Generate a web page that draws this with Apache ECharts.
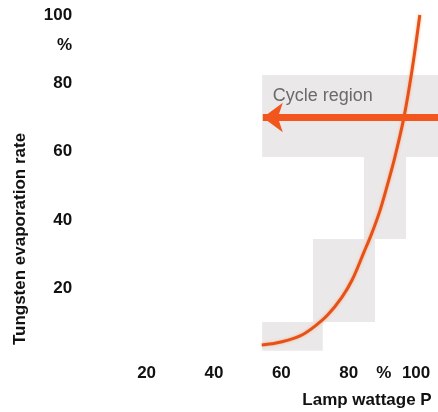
<!DOCTYPE html>
<html>
<head>
<meta charset="utf-8">
<script src="https://cdn.jsdelivr.net/npm/echarts@6/dist/echarts.min.js"></script>
<style>html,body{margin:0;padding:0;background:#fff}#c{width:438px;height:412px}</style>
</head>
<body>
<div id="c"></div>
<script>
// Curve: lamp wattage (%) vs tungsten evaporation rate (%)
const wattage = [54.2, 58.1, 62.0, 66.1, 70.0, 73.8, 78.0, 81.0, 84.5, 86.9, 89.3, 91.3, 93.7, 96.4, 98.8, 101.1];
const evaporation = [3.4, 3.9, 4.8, 6.3, 8.9, 12.2, 17.4, 22.4, 30.5, 36.2, 42.8, 49.6, 58.4, 70.1, 83.9, 100.0];

// Cycle region arrow
const arrowY = 70.0;
const arrowFrom = 54.5;
const arrowTo = 106.5;
const arrowLabel = 'Cycle region';

// Shaded bands [x0, y0, x1, y1]
const bands = [
  [54.3, 58.4, 106.5, 82.4],
  [84.5, 34.4, 97.0, 58.4],
  [69.4, 10.1, 87.8, 34.4],
  [54.3, 1.7, 72.3, 10.1]
];

// Tick labels
const xLabelValues = [20, 40, 60, 80, 90.4, 100];
const xLabelTexts = ['20', '40', '60', '80', '%', '100'];
const yLabelValues = [20, 40, 60, 80, 91.2, 100];
const yLabelTexts = ['20', '40', '60', '80', '%', '100'];

const xTitle = 'Lamp wattage P';
const yTitle = 'Tungsten evaporation rate';

const chart = echarts.init(document.getElementById('c'));
const font = 'Liberation Sans, Arial, Helvetica, sans-serif';
const lab = (vals, texts) => v => { const i = vals.findIndex(a => Math.abs(a - v) < 1e-6); return i >= 0 ? texts[i] : ''; };

chart.setOption({
  animation: false,
  grid: { left: 79.2, right: 0, top: 0, bottom: 55.5 },
  xAxis: {
    type: 'value', min: 0, max: 106.5,
    axisLine: { show: false }, axisTick: { show: false }, splitLine: { show: false },
    axisLabel: { customValues: xLabelValues, formatter: lab(xLabelValues, xLabelTexts), color: '#111', fontSize: 17, fontWeight: 'bold', fontFamily: font, margin: 8 }
  },
  yAxis: {
    type: 'value', min: 0, max: 104.4,
    axisLine: { show: false }, axisTick: { show: false }, splitLine: { show: false },
    axisLabel: { customValues: yLabelValues, formatter: lab(yLabelValues, yLabelTexts), color: '#111', fontSize: 17, fontWeight: 'bold', fontFamily: font, margin: 7 }
  },
  graphic: [
    { type: 'text', x: 20, y: 239, rotation: Math.PI / 2, style: { text: yTitle, fill: '#111', font: 'bold 17px ' + font, align: 'center', verticalAlign: 'middle' } },
    { type: 'text', x: 367, y: 400, style: { text: xTitle, fill: '#111', font: 'bold 17px ' + font, align: 'center', verticalAlign: 'middle' } }
  ],
  series: [
    {
      type: 'line', smooth: 0.35, symbol: 'none', z: 3,
      data: wattage.map((x, i) => [x, evaporation[i]]),
      lineStyle: { color: '#e4521a', width: 3, shadowColor: 'rgba(255,150,80,0.7)', shadowBlur: 3 },
      markArea: {
        silent: true, z: 1,
        itemStyle: { color: '#ebe8ea' },
        data: bands.map(b => [{ coord: [b[0], b[1]] }, { coord: [b[2], b[3]] }])
      },
      markLine: {
        silent: true, z: 4,
        symbol: ['arrow', 'none'], symbolSize: [22, 20],
        lineStyle: { color: '#f2561c', width: 7, type: 'solid' },
        label: { show: true, formatter: arrowLabel, position: 'insideStartTop', distance: [10, 12], color: '#6a6a6a', fontSize: 18, fontFamily: font },
        data: [[{ coord: [arrowFrom, arrowY] }, { coord: [arrowTo, arrowY] }]]
      }
    }
  ]
});
</script>
</body>
</html>
